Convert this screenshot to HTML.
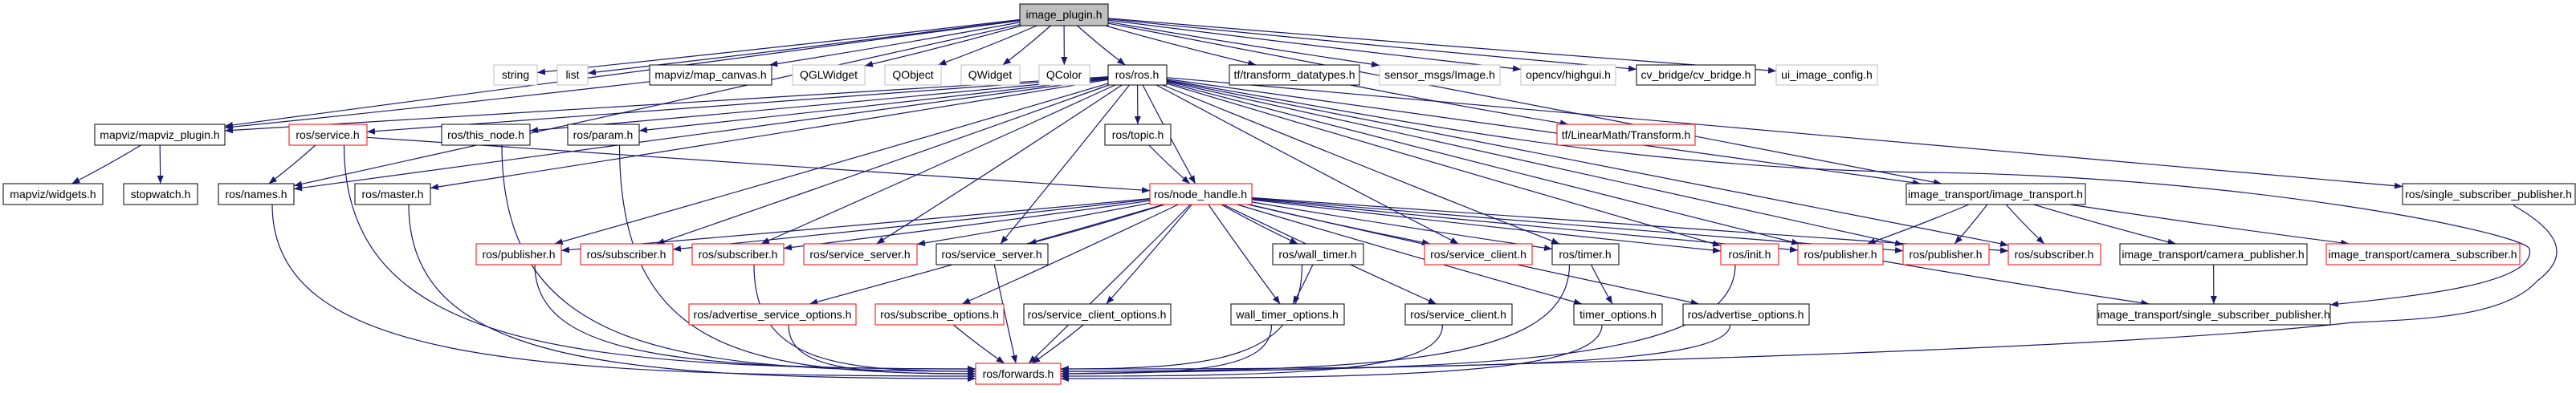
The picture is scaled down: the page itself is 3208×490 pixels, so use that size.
<!DOCTYPE html>
<html><head><meta charset="utf-8">
<style>
html,body{margin:0;padding:0;background:#fff;}
body{width:3208px;height:485px;overflow:hidden;}
svg text{font-family:"Liberation Sans",Helvetica,Arial,sans-serif;font-size:14px;fill:#000;}
</style></head>
<body>
<svg id="g" width="3208" height="485" viewBox="0 0 3208 485" xmlns="http://www.w3.org/2000/svg">
<defs>
<marker id="ah" viewBox="0 0 10 10" refX="10" refY="5" markerWidth="10" markerHeight="10" markerUnits="userSpaceOnUse" orient="auto">
<path d="M0,1 L10,5 L0,9 z" fill="#191970"/>
</marker>
</defs>
<g id="edges" fill="none" stroke="#191970" stroke-width="1.2"></g>
<g id="nodes">
<rect x="1270" y="5" width="110" height="27" fill="#bfbfbf" stroke="#000"/><text x="1325" y="23" text-anchor="middle">image_plugin.h</text>

<rect x="615" y="81" width="54" height="25" fill="#fff" stroke="#bfbfbf"/><text x="642" y="98" text-anchor="middle">string</text>
<rect x="694" y="81" width="38" height="25" fill="#fff" stroke="#bfbfbf"/><text x="713" y="98" text-anchor="middle">list</text>
<rect x="809" y="81" width="152" height="25" fill="#fff" stroke="#000"/><text x="885" y="98" text-anchor="middle">mapviz/map_canvas.h</text>
<rect x="987" y="81" width="90" height="25" fill="#fff" stroke="#bfbfbf"/><text x="1032" y="98" text-anchor="middle">QGLWidget</text>
<rect x="1102" y="81" width="70" height="25" fill="#fff" stroke="#bfbfbf"/><text x="1137" y="98" text-anchor="middle">QObject</text>
<rect x="1197" y="81" width="73" height="25" fill="#fff" stroke="#bfbfbf"/><text x="1233" y="98" text-anchor="middle">QWidget</text>
<rect x="1294" y="81" width="63" height="25" fill="#fff" stroke="#bfbfbf"/><text x="1325" y="98" text-anchor="middle">QColor</text>
<rect x="1380" y="81" width="73" height="25" fill="#fff" stroke="#000"/><text x="1416" y="98" text-anchor="middle">ros/ros.h</text>
<rect x="1531" y="81" width="162" height="25" fill="#fff" stroke="#000"/><text x="1612" y="98" text-anchor="middle">tf/transform_datatypes.h</text>
<rect x="1718" y="81" width="150" height="25" fill="#fff" stroke="#bfbfbf"/><text x="1793" y="98" text-anchor="middle">sensor_msgs/Image.h</text>
<rect x="1894" y="81" width="118" height="25" fill="#fff" stroke="#bfbfbf"/><text x="1953" y="98" text-anchor="middle">opencv/highgui.h</text>
<rect x="2038" y="81" width="148" height="25" fill="#fff" stroke="#000"/><text x="2112" y="98" text-anchor="middle">cv_bridge/cv_bridge.h</text>
<rect x="2212" y="81" width="126" height="25" fill="#fff" stroke="#bfbfbf"/><text x="2275" y="98" text-anchor="middle">ui_image_config.h</text>

<rect x="118" y="155" width="162" height="26" fill="#fff" stroke="#000"/><text x="199" y="173" text-anchor="middle">mapviz/mapviz_plugin.h</text>
<rect x="360" y="155" width="97" height="26" fill="#fff" stroke="#ff0000"/><text x="408" y="173" text-anchor="middle">ros/service.h</text>
<rect x="550" y="155" width="110" height="26" fill="#fff" stroke="#000"/><text x="605" y="173" text-anchor="middle">ros/this_node.h</text>
<rect x="707" y="155" width="89" height="26" fill="#fff" stroke="#000"/><text x="751" y="173" text-anchor="middle">ros/param.h</text>
<rect x="1376" y="155" width="82" height="26" fill="#fff" stroke="#000"/><text x="1417" y="173" text-anchor="middle">ros/topic.h</text>
<rect x="1939" y="155" width="172" height="26" fill="#fff" stroke="#ff0000"/><text x="2025" y="173" text-anchor="middle">tf/LinearMath/Transform.h</text>

<rect x="4" y="229" width="124" height="26" fill="#fff" stroke="#000"/><text x="66" y="247" text-anchor="middle">mapviz/widgets.h</text>
<rect x="154" y="229" width="92" height="26" fill="#fff" stroke="#000"/><text x="200" y="247" text-anchor="middle">stopwatch.h</text>
<rect x="272" y="229" width="94" height="26" fill="#fff" stroke="#000"/><text x="319" y="247" text-anchor="middle">ros/names.h</text>
<rect x="442" y="229" width="94" height="26" fill="#fff" stroke="#000"/><text x="489" y="247" text-anchor="middle">ros/master.h</text>
<rect x="1432" y="229" width="127" height="26" fill="#fff" stroke="#ff0000"/><text x="1495" y="247" text-anchor="middle">ros/node_handle.h</text>
<rect x="2374" y="229" width="223" height="26" fill="#fff" stroke="#000"/><text x="2485" y="247" text-anchor="middle">image_transport/image_transport.h</text>
<rect x="2992" y="229" width="215" height="26" fill="#fff" stroke="#000"/><text x="3099" y="247" text-anchor="middle">ros/single_subscriber_publisher.h</text>

<rect x="593" y="304" width="106" height="26" fill="#fff" stroke="#ff0000"/><text x="646" y="322" text-anchor="middle">ros/publisher.h</text>
<rect x="723" y="304" width="115" height="26" fill="#fff" stroke="#ff0000"/><text x="780" y="322" text-anchor="middle">ros/subscriber.h</text>
<rect x="862" y="304" width="114" height="26" fill="#fff" stroke="#ff0000"/><text x="919" y="322" text-anchor="middle">ros/subscriber.h</text>
<rect x="1001" y="304" width="141" height="26" fill="#fff" stroke="#ff0000"/><text x="1071" y="322" text-anchor="middle">ros/service_server.h</text>
<rect x="1166" y="304" width="139" height="26" fill="#fff" stroke="#000"/><text x="1235" y="322" text-anchor="middle">ros/service_server.h</text>
<rect x="1585" y="304" width="113" height="26" fill="#fff" stroke="#000"/><text x="1641" y="322" text-anchor="middle">ros/wall_timer.h</text>
<rect x="1774" y="304" width="134" height="26" fill="#fff" stroke="#ff0000"/><text x="1841" y="322" text-anchor="middle">ros/service_client.h</text>
<rect x="1933" y="304" width="83" height="26" fill="#fff" stroke="#000"/><text x="1974" y="322" text-anchor="middle">ros/timer.h</text>
<rect x="2143" y="304" width="72" height="26" fill="#fff" stroke="#ff0000"/><text x="2179" y="322" text-anchor="middle">ros/init.h</text>
<rect x="2239" y="304" width="106" height="26" fill="#fff" stroke="#ff0000"/><text x="2292" y="322" text-anchor="middle">ros/publisher.h</text>
<rect x="2370" y="304" width="107" height="26" fill="#fff" stroke="#ff0000"/><text x="2423" y="322" text-anchor="middle">ros/publisher.h</text>
<rect x="2501" y="304" width="115" height="26" fill="#fff" stroke="#ff0000"/><text x="2558" y="322" text-anchor="middle">ros/subscriber.h</text>
<rect x="2640" y="304" width="233" height="26" fill="#fff" stroke="#000"/><text x="2756" y="322" text-anchor="middle">image_transport/camera_publisher.h</text>
<rect x="2897" y="304" width="241" height="26" fill="#fff" stroke="#ff0000"/><text x="3017" y="322" text-anchor="middle">image_transport/camera_subscriber.h</text>

<rect x="858" y="379" width="208" height="26" fill="#fff" stroke="#ff0000"/><text x="962" y="397" text-anchor="middle">ros/advertise_service_options.h</text>
<rect x="1090" y="379" width="160" height="26" fill="#fff" stroke="#ff0000"/><text x="1170" y="397" text-anchor="middle">ros/subscribe_options.h</text>
<rect x="1275" y="379" width="183" height="26" fill="#fff" stroke="#000"/><text x="1366" y="397" text-anchor="middle">ros/service_client_options.h</text>
<rect x="1533" y="379" width="141" height="26" fill="#fff" stroke="#000"/><text x="1603" y="397" text-anchor="middle">wall_timer_options.h</text>
<rect x="1750" y="379" width="133" height="26" fill="#fff" stroke="#000"/><text x="1816" y="397" text-anchor="middle">ros/service_client.h</text>
<rect x="1960" y="379" width="110" height="26" fill="#fff" stroke="#000"/><text x="2015" y="397" text-anchor="middle">timer_options.h</text>
<rect x="2096" y="379" width="157" height="26" fill="#fff" stroke="#000"/><text x="2174" y="397" text-anchor="middle">ros/advertise_options.h</text>
<rect x="2612" y="379" width="290" height="26" fill="#fff" stroke="#000"/><text x="2757" y="397" text-anchor="middle">image_transport/single_subscriber_publisher.h</text>

<rect x="1215" y="453" width="106" height="26" fill="#fff" stroke="#ff0000"/><text x="1268" y="471" text-anchor="middle">ros/forwards.h</text>
</g>
</svg>
<script>
var N={
ip:[1270,5,1380,32],string:[615,81,669,106],list:[694,81,732,106],canvas:[809,81,961,106],qgl:[987,81,1077,106],qobj:[1102,81,1172,106],qwid:[1197,81,1270,106],qcol:[1294,81,1357,106],ros:[1380,81,1453,106],tfd:[1531,81,1693,106],smi:[1718,81,1868,106],ocv:[1894,81,2012,106],cvb:[2038,81,2186,106],uic:[2212,81,2338,106],
plug:[118,155,280,181],svc:[360,155,457,181],thn:[550,155,660,181],par:[707,155,796,181],top:[1376,155,1458,181],lmt:[1939,155,2111,181],
wid:[4,229,128,255],sw:[154,229,246,255],nam:[272,229,366,255],mas:[442,229,536,255],nh:[1432,229,1559,255],it:[2374,229,2597,255],rssp:[2992,229,3207,255],
pub1:[593,304,699,330],sub1:[723,304,838,330],sub2:[862,304,976,330],ss1:[1001,304,1142,330],ss2:[1166,304,1305,330],wt:[1585,304,1698,330],sc1:[1774,304,1908,330],tm:[1933,304,2016,330],init:[2143,304,2215,330],pub2:[2239,304,2345,330],pub3:[2370,304,2477,330],sub3:[2501,304,2616,330],cp:[2640,304,2873,330],cs:[2897,304,3138,330],
aso:[858,379,1066,405],so:[1090,379,1250,405],sco:[1275,379,1458,405],wto:[1533,379,1674,405],sc2:[1750,379,1883,405],to:[1960,379,2070,405],ao:[2096,379,2253,405],itssp:[2612,379,2902,405],
fw:[1215,453,1321,479]};
var E=[
['ip','string'],['ip','list'],['ip','canvas'],['ip','qgl'],['ip','qobj'],['ip','qwid'],['ip','qcol'],['ip','ros'],['ip','tfd'],['ip','smi'],['ip','ocv'],['ip','cvb'],['ip','uic'],['ip','plug'],['ip','it'],['ip','nam'],
['canvas','plug'],['plug','wid'],['plug','sw'],
['ros','plug'],['ros','svc'],['ros','thn'],['ros','par'],['ros','nam'],['ros','mas'],['ros','pub1'],['ros','sub1'],['ros','sub2'],['ros','ss1'],['ros','ss2'],['ros','top'],['ros','nh'],['ros','sc1'],['ros','tm'],['ros','init'],['ros','pub2'],['ros','pub3'],['ros','sub3'],['ros','rssp'],['ros','it'],
['tfd','lmt'],['svc','nam'],['svc','nh'],['svc','fw'],['thn','fw'],['par','fw'],['nam','fw'],['mas','fw'],['top','nh'],
['nh','pub1'],['nh','sub1'],['nh','sub2'],['nh','ss1'],['nh','ss2'],['nh','aso'],['nh','so'],['nh','sco'],['nh','wt'],['nh','wto'],['nh','sc1'],['nh','sc2'],['nh','tm'],['nh','to'],['nh','init'],['nh','pub2'],['nh','pub3'],['nh','sub3'],['nh','ao'],['nh','fw'],
['wt','wto'],['wt','fw'],['tm','to'],['tm','fw'],['pub1','fw'],['sub2','fw'],['ss2','fw'],['aso','fw'],['so','fw'],['sco','fw'],['wto','fw'],['sc2','fw'],['to','fw'],['ao','fw'],['init','fw'],
['it','pub2'],['it','pub3'],['it','sub3'],['it','cp'],['it','cs'],['cp','itssp'],['pub2','itssp']
];
var g=document.getElementById('edges'),s='';
function clip(b,cx,cy,dx,dy){
 var hw=(b[2]-b[0])/2,hh=(b[3]-b[1])/2,t=1e9;
 if(dx!==0)t=Math.min(t,hw/Math.abs(dx));
 if(dy!==0)t=Math.min(t,hh/Math.abs(dy));
 return [cx+dx*t,cy+dy*t];
}
var lk=0,rk=0;
E.forEach(function(e){
 var a=N[e[0]],b=N[e[1]];
 var ax=(a[0]+a[2])/2,ay=(a[1]+a[3])/2,bx=(b[0]+b[2])/2,by=(b[1]+b[3])/2;
 var dx=bx-ax,dy=by-ay;
 if(e[1]=='fw' && Math.abs(dx)>250){
   var sx=ax+(dx>0?1:-1)*Math.min(20,(a[2]-a[0])/4),sy=a[3];
   var tx,ty;
   if(dx>0){tx=b[0];ty=460+(lk++%5)*3;}else{tx=b[2];ty=460+(rk++%5)*3;}
   s+='<path marker-end="url(#ah)" d="M'+sx+','+sy+' C'+sx+','+(sy+(ty-sy)*0.9)+' '+(sx+(tx-sx)*0.35)+','+ty+' '+tx+','+ty+'"/>';
   return;
 }
 var p=clip(a,ax,ay,dx,dy),q=clip(b,bx,by,-dx,-dy);
 var mx=(p[0]+q[0])/2,my=(p[1]+q[1])/2;
 s+='<path marker-end="url(#ah)" d="M'+p[0].toFixed(1)+','+p[1].toFixed(1)+' Q'+mx.toFixed(1)+','+(my+2).toFixed(1)+' '+q[0].toFixed(1)+','+q[1].toFixed(1)+'"/>';
});
s+='<path marker-end="url(#ah)" d="M1453,100 C1700,140 2000,210 2400,215 C2800,220 3140,290 3150,310 C3160,355 3000,370 2902,380"/>';
s+='<path marker-end="url(#ah)" d="M3130,256 C3190,290 3200,320 3160,350 C3120,395 3020,398 2930,402 C2600,440 1700,460 1321,466"/>';
g.innerHTML=s;
</script>
</body></html>
